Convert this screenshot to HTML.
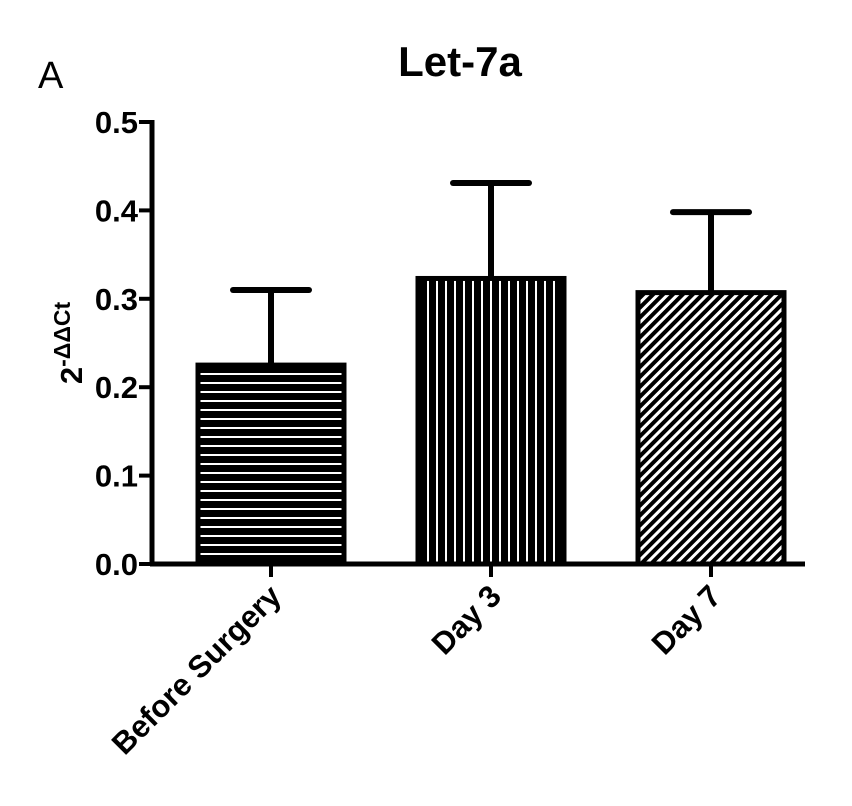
<!DOCTYPE html>
<html><head><meta charset="utf-8"><style>
body{margin:0;background:#fff;}
svg{display:block;font-family:"Liberation Sans",Arial,sans-serif;}
</style></head><body>
<svg width="852" height="806" viewBox="0 0 852 806">
<defs>
<pattern id="pH" patternUnits="userSpaceOnUse" width="10" height="9"><rect width="10" height="9" fill="#000"/><rect y="4" width="10" height="2" fill="#fff"/></pattern>
<pattern id="pV" patternUnits="userSpaceOnUse" width="9" height="10"><rect width="9" height="10" fill="#000"/><rect x="4" width="2" height="10" fill="#fff"/></pattern>
<pattern id="pD" patternUnits="userSpaceOnUse" width="7" height="7" patternTransform="rotate(45)"><rect width="7" height="7" fill="#000"/><rect x="0" width="3" height="7" fill="#fff"/></pattern>
</defs>
<text x="38" y="88" font-size="38">A</text>
<text x="460" y="76" font-size="42" font-weight="bold" text-anchor="middle">Let-7a</text>
<text transform="translate(82,343) rotate(-90)" font-size="31" font-weight="bold" text-anchor="middle">2<tspan dy="-12" font-size="23">-ΔΔCt</tspan></text>
<g id="plot"></g>
</svg>
<script>
const categories=["Before Surgery","Day 3","Day 7"];
const means=[0.225,0.323,0.307];
const errors=[0.085,0.108,0.091];
const yTicks=[0.0,0.1,0.2,0.3,0.4,0.5];
const fills=["url(#pH)","url(#pV)","url(#pD)"];
const NS="http://www.w3.org/2000/svg";
const g=document.getElementById('plot');
const x0=152,x1=805,y0=564,y1=122;
const y=v=>y0-(v/0.5)*(y0-y1);
const xc=i=>271+i*220;
const bw=146;
function mk(t,a){const e=document.createElementNS(NS,t);for(const k in a)e.setAttribute(k,a[k]);g.appendChild(e);return e;}
categories.forEach((c,i)=>{
  const top=y(means[i]),et=y(means[i]+errors[i]);
  const ln=mk('line',{x1:xc(i),x2:xc(i),y1:top,y2:et,stroke:'#000','stroke-width':6});
  
  
  const cap=mk('line',{x1:xc(i)-38,x2:xc(i)+38,y1:et,y2:et,stroke:'#000','stroke-width':6,'stroke-linecap':'round'});
  
  
  const r=mk('rect',{x:xc(i)-bw/2,y:top,width:bw,height:y0-top,fill:fills[i],stroke:'#000','stroke-width':5});
  
  
  const tk=mk('line',{x1:xc(i),x2:xc(i),y1:y0,y2:577,stroke:'#000','stroke-width':4});
  
  
  const t=mk('text',{transform:`translate(${xc(i)+12},${598}) rotate(-45)`,'font-size':31,'font-weight':'bold','text-anchor':'end'});
  t.textContent=c;
  
  
});
yTicks.forEach(v=>{
  const tk=mk('line',{x1:139,x2:x0,y1:y(v),y2:y(v),stroke:'#000','stroke-width':4});
  
  
  const t=mk('text',{x:138,y:y(v)+11,'font-size':31,'font-weight':'bold','text-anchor':'end'});
  t.textContent=v.toFixed(1);
  
  
});
const ya=mk('line',{x1:x0,x2:x0,y1:y1-2,y2:y0+2,stroke:'#000','stroke-width':5});


const xa=mk('line',{x1:x0-2,x2:x1,y1:y0,y2:y0,stroke:'#000','stroke-width':5});


</script>
</body></html>
